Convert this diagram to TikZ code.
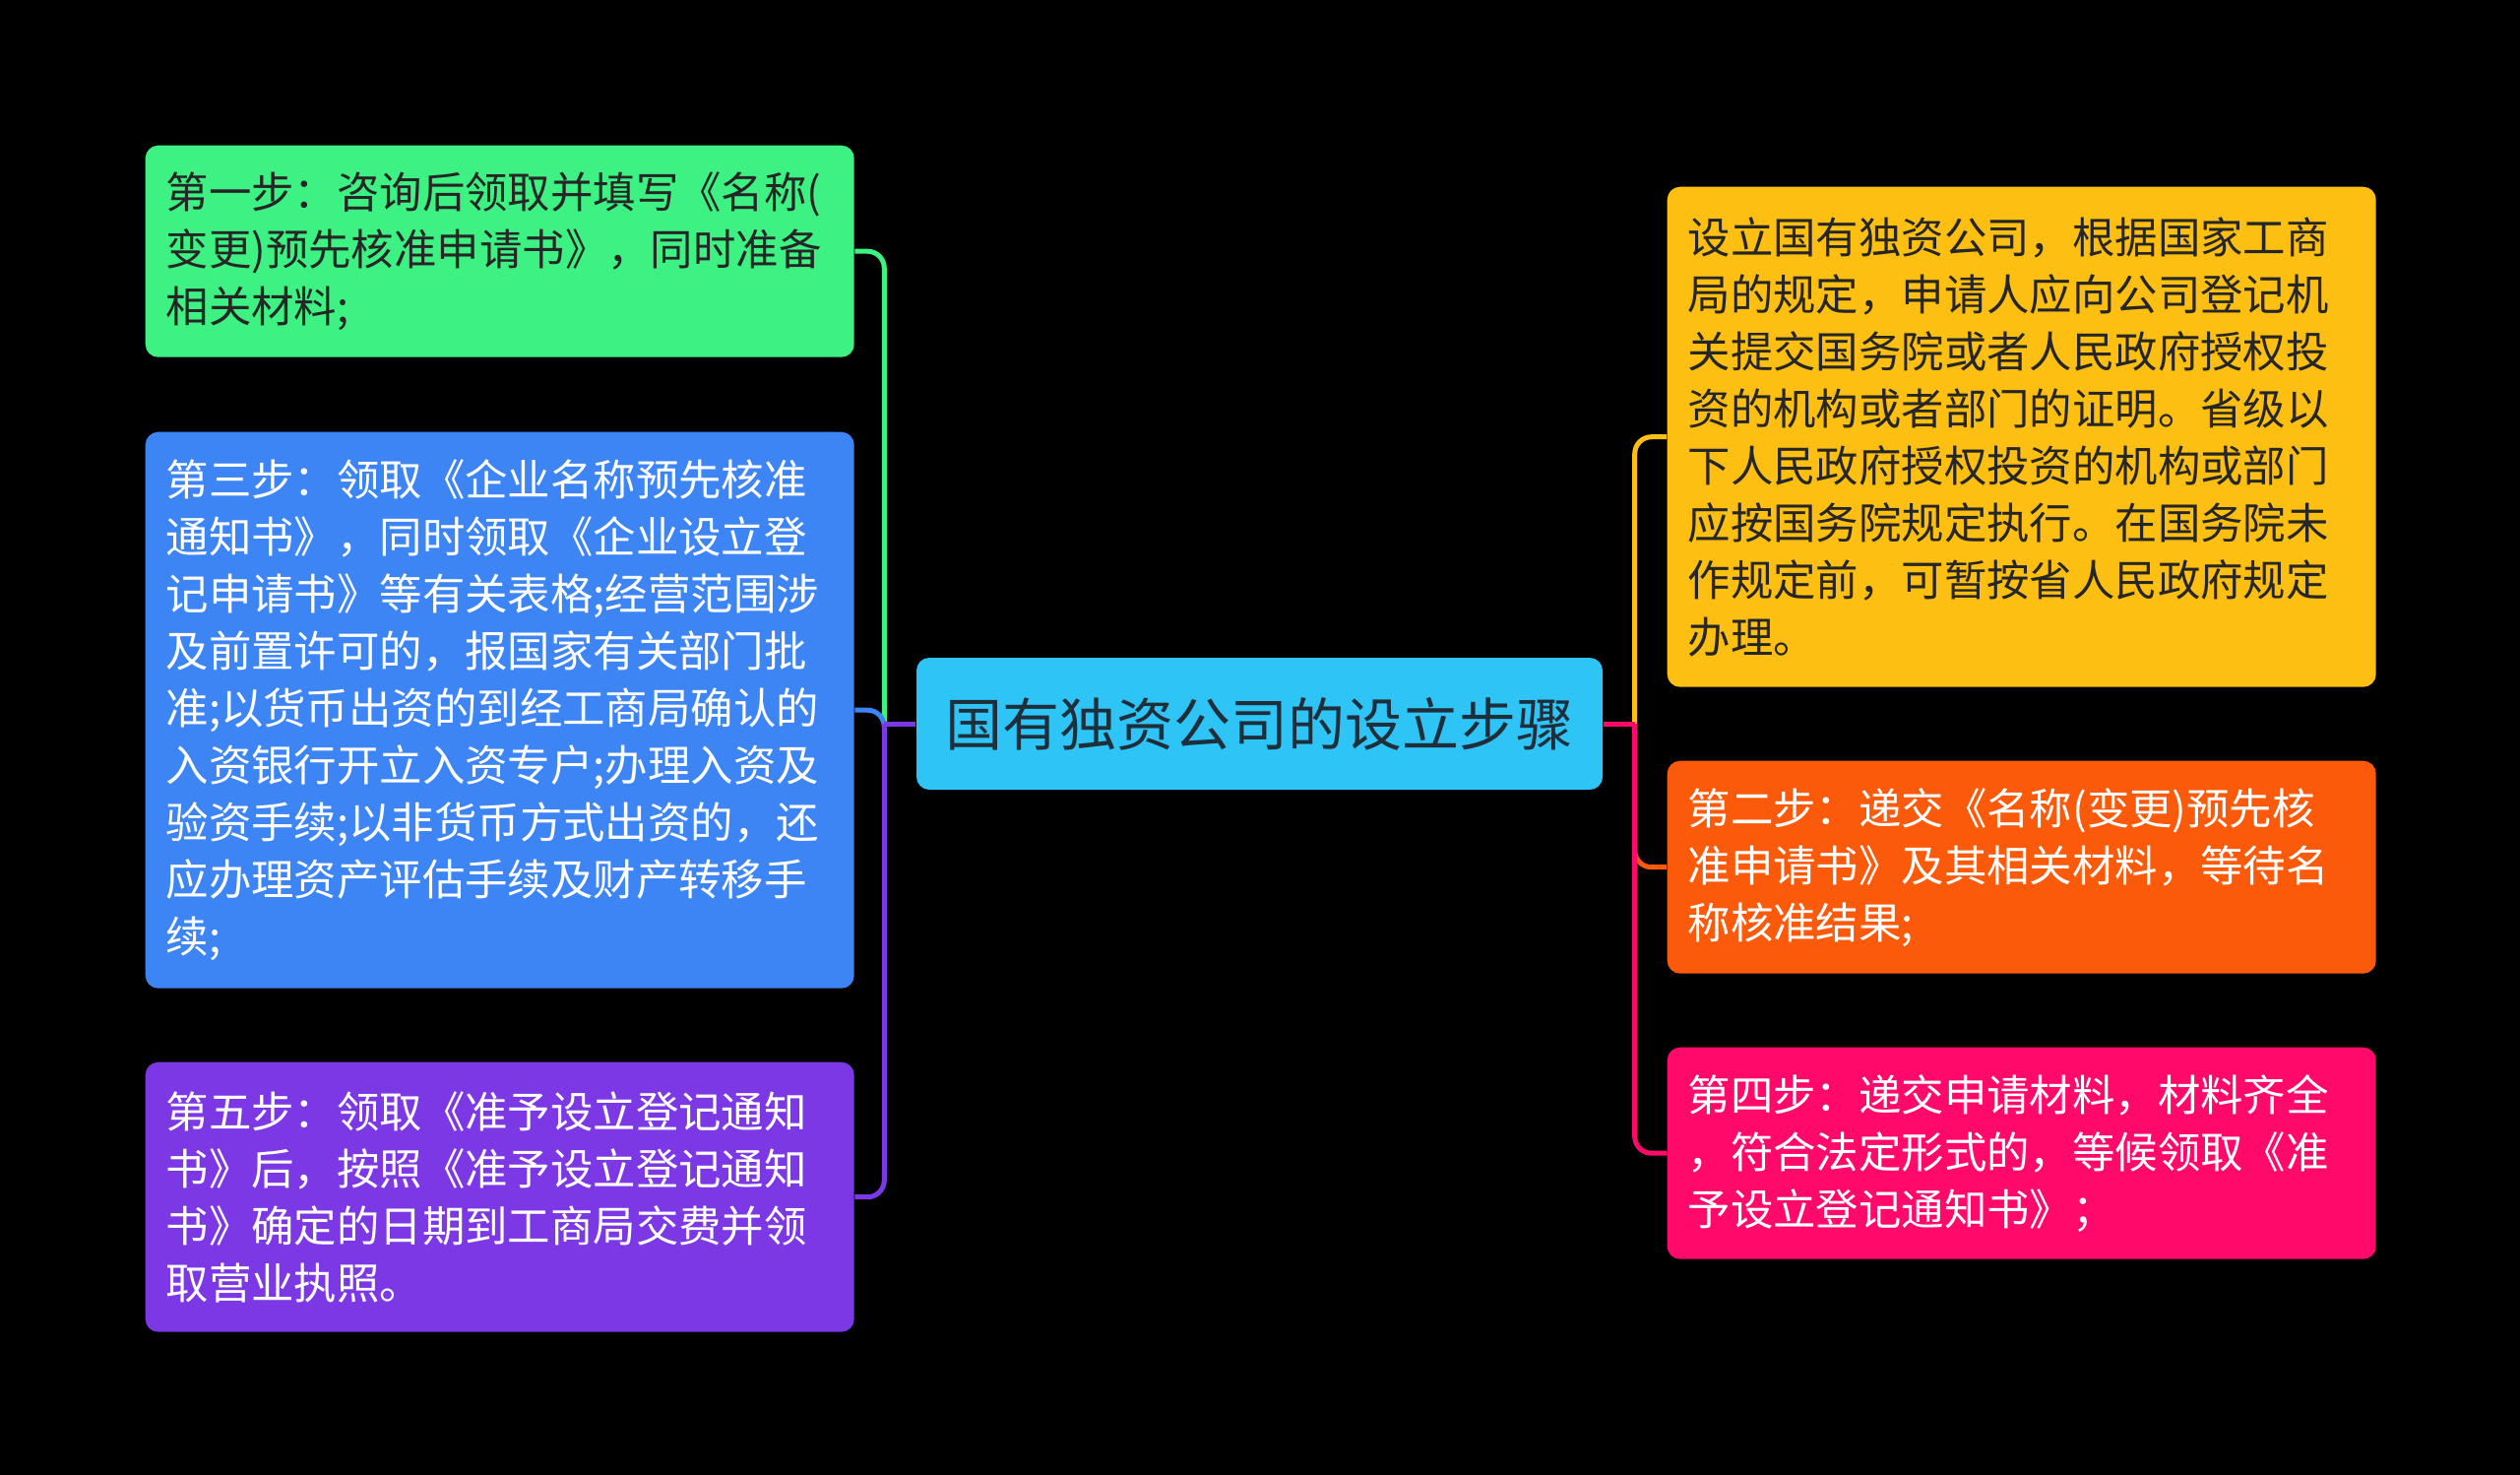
\documentclass[tikz,border=0pt]{standalone}
\usepackage{fontspec}
\newfontfamily\cjk{Noto Sans CJK SC}
\usetikzlibrary{calc}
\definecolor{cgreen}{HTML}{3DF283}
\definecolor{cblue}{HTML}{3D85F5}
\definecolor{cpurple}{HTML}{7D38E6}
\definecolor{ccenter}{HTML}{2EC4F5}
\definecolor{cyellow}{HTML}{FDBF12}
\definecolor{corange}{HTML}{FB5A0B}
\definecolor{cpink}{HTML}{FF0A6A}
\definecolor{darktext}{HTML}{262626}
\definecolor{titletext}{HTML}{1E2E3A}
\tikzset{
  box/.style={rounded corners=0.13cm, inner xsep=0.21cm, inner ysep=0pt,
    text width=6.78cm, align=left, anchor=north west,
    font=\cjk\fontsize{12.35pt}{16.5pt}\selectfont},
  centerbox/.style={rounded corners=0.13cm, fill=ccenter, text=titletext,
    minimum width=6.97cm, minimum height=1.34cm, inner sep=0pt,
    font=\cjk\fontsize{16.5pt}{20pt}\selectfont},
  link/.style={line width=0.05cm},
  corner/.style={link, rounded corners=0.17cm}
}
\begin{document}
\begin{tikzpicture}
\fill[black] (0,0) rectangle (25.6,-14.98);
\useasboundingbox (0,0) rectangle (25.6,-14.98);

% center
\node[centerbox] (c) at (12.795,-7.35) {国有独资公司的设立步骤};

% left children
\node[box, fill=cgreen, text=darktext, minimum height=2.15cm] (g) at (1.47,-1.47)
  {第一步：咨询后领取并填写《名称(\\变更)预先核准申请书》，同时准备\\相关材料;};
\node[box, fill=cblue, text=white, minimum height=5.65cm] (b) at (1.47,-4.38)
  {第三步：领取《企业名称预先核准\\通知书》，同时领取《企业设立登\\记申请书》等有关表格;经营范围涉\\及前置许可的，报国家有关部门批\\准;以货币出资的到经工商局确认的\\入资银行开立入资专户;办理入资及\\验资手续;以非货币方式出资的，还\\应办理资产评估手续及财产转移手\\续;};
\node[box, fill=cpurple, text=white, minimum height=2.74cm] (p) at (1.47,-10.78)
  {第五步：领取《准予设立登记通知\\书》后，按照《准予设立登记通知\\书》确定的日期到工商局交费并领\\取营业执照。};

% right children
\node[box, fill=cyellow, text=darktext, minimum height=5.08cm] (y) at (16.93,-1.89)
  {设立国有独资公司，根据国家工商\\局的规定，申请人应向公司登记机\\关提交国务院或者人民政府授权投\\资的机构或者部门的证明。省级以\\下人民政府授权投资的机构或部门\\应按国务院规定执行。在国务院未\\作规定前，可暂按省人民政府规定\\办理。};
\node[box, fill=corange, text=white, minimum height=2.16cm] (o) at (16.93,-7.72)
  {第二步：递交《名称(变更)预先核\\准申请书》及其相关材料，等待名\\称核准结果;};
\node[box, fill=cpink, text=white, minimum height=2.15cm] (k) at (16.93,-10.63)
  {第四步：递交申请材料，材料齐全\\，符合法定形式的，等候领取《准\\予设立登记通知书》；};

% junctions
\coordinate (lj) at ($(c.west)+(-0.32,0)$);
\coordinate (rj) at ($(c.east)+(0.32,0)$);

% left connectors
\draw[corner, cgreen] (lj) |- (g.east);
\draw[corner, cblue] (lj) |- (b.east);
\draw[corner, cpurple] (lj) |- (p.east);
\draw[link, cpurple] (c.west) -- (lj);

% right connectors
\draw[corner, cyellow] (rj) |- (y.west);
\draw[corner, corange] (rj) |- (o.west);
\draw[corner, cpink] (rj) |- (k.west);
\draw[link, cpink] (c.east) -- (rj);
\end{tikzpicture}
\end{document}
